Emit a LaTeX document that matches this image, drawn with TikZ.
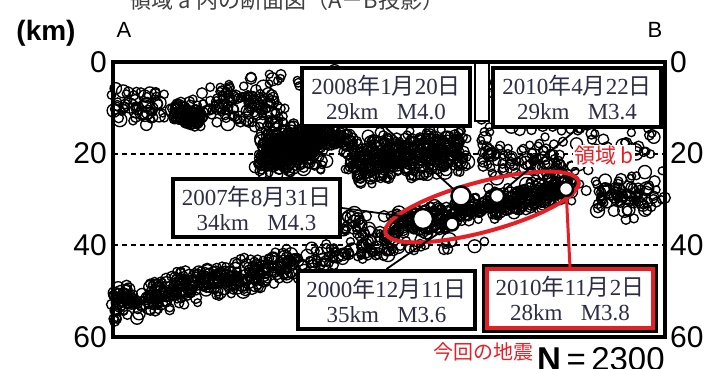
\documentclass[tikz,border=0pt]{standalone}
\usepackage{fontspec}
\setmainfont{Liberation Sans}
\newfontfamily\jpfont{Noto Sans CJK JP}
\newfontfamily\serifnum{Liberation Serif}
\newcommand\kyear{{\jpfont 年}}
\newcommand\kmonth{{\jpfont 月}}
\newcommand\kday{{\jpfont 日}}
\definecolor{boxtext}{RGB}{45,45,70}
\definecolor{quakered}{RGB}{228,32,38}

\begin{document}
\begin{tikzpicture}[x=1pt, y=-1pt,
  quake/.style={line width=1.35pt, black},
  evbox/.style={draw, line width=4pt, fill=white, align=center, inner sep=0pt,
    text=boxtext, font=\fontsize{23}{25}\selectfont\serifnum},
  event/.style={circle, draw, line width=2.5pt, fill=white, inner sep=0pt},
  link/.style={line width=1.8pt},
  depth/.style={font=\fontsize{30}{30}\selectfont, inner sep=0pt}]
  \useasboundingbox (0,0) rectangle (713,369);

  \draw[line width=1.2pt, dash pattern=on 5pt off 4pt] (113,154) -- (665,154);
  \draw[line width=1.2pt, dash pattern=on 5pt off 4pt] (113,245) -- (665,245);

  \pgfmathsetseed{2300}
  \foreach \n/\xa/\ya/\xb/\yb/\sx/\sy in {170/115/106/280/112/8/20, 70/180/116/200/120/8/9,
      40/215/95/275/98/18/12, 380/262/150/318/145/12/27, 130/300/137/345/137/8/10,
      420/350/160/465/150/12/27, 420/392/228/570/187/10/16, 380/115/305/290/264/10/20,
      70/290/262/390/250/12/12, 130/480/140/660/140/5/78, 80/600/195/658/200/12/24,
      40/250/78/470/80/10/12, 45/345/225/390/238/15/22, 70/480/152/580/168/10/18,
      25/310/250/480/245/10/8}{
    \foreach \k in {1,...,\n}{
      \pgfmathsetmacro\qt{rnd}
      \pgfmathsetmacro\qx{\xa+(\xb-\xa)*\qt+\sx*(rand+rand)/2}
      \pgfmathsetmacro\qy{\ya+(\yb-\ya)*\qt+\sy*(rand+rand)/2}
      \pgfmathsetmacro\qr{3.8+3.8*rnd*rnd}
      \draw[quake] (\qx,\qy) circle[radius=\qr];
    }
  }

  \draw[quakered, line width=4pt, rotate around={15:(482,207)}] (482,207) ellipse[x radius=100, y radius=25];

  \node[event, minimum size=20pt] (e2007) at (423,219) {};
  \node[event, minimum size=19pt] (e2008) at (461,196) {};
  \node[event, minimum size=13pt] (e2000) at (452,224) {};
  \node[event, minimum size=14pt] (e2010a) at (497,196) {};
  \node[event, minimum size=14pt] (enow) at (566,189) {};

  \draw[line width=1.5pt, fill=white] (475,62) rectangle (489,121);
  \node[evbox, minimum width=168pt, minimum height=58pt] (b2008) at (386,97)
    {2008\kyear 1\kmonth 20\kday\\29km\hspace{0.8em}M4.0};
  \node[evbox, minimum width=168pt, minimum height=59pt] (b2010a) at (577,97.5)
    {2010\kyear 4\kmonth 22\kday\\29km\hspace{0.8em}M3.4};
  \node[evbox, minimum width=167pt, minimum height=58pt] (b2007) at (256.5,208)
    {2007\kyear 8\kmonth 31\kday\\34km\hspace{0.8em}M4.3};
  \node[evbox, minimum width=177pt, minimum height=58pt] (b2000) at (386.5,300)
    {2000\kyear 12\kmonth 11\kday\\35km\hspace{0.8em}M3.6};
  \node[evbox, draw=quakered, minimum width=166pt, minimum height=59pt] (bnow) at (570,298.5)
    {2010\kyear 11\kmonth 2\kday\\28km\hspace{0.8em}M3.8};
  \draw[line width=3pt] ([shift={(-1.5,-1.5)}]bnow.north west) rectangle ([shift={(1.5,1.5)}]bnow.south east);

  \draw[link] (b2007.east) -- (e2007);
  \draw[link] (b2008.south) -- (e2008);
  \draw[link] (b2010a.south) -- (e2010a);
  \draw[link] (b2000.north) -- (e2000);
  \draw[quakered, line width=3pt] (bnow.north) -- (enow);

  \draw[line width=4.5pt] (113,62) rectangle (665,337);

  \foreach \d in {0,20,40,60}{
    \node[depth, anchor=east] (dl\d) at (107,{62+4.583*\d}) {\d};
    \node[depth, anchor=west] (dr\d) at (670,{62+4.583*\d}) {\d};
  }
  \node[font=\fontsize{28}{28}\selectfont\bfseries] (unit) at (46,33) {(km)};
  \node[font=\fontsize{22}{22}\selectfont] (ptA) at (124,30) {A};
  \node[font=\fontsize{22}{22}\selectfont] (ptB) at (655,30) {B};
  \node[anchor=base, text=black!75, font=\jpfont\fontsize{22}{22}\selectfont] (title) at (287,9)
    {領域 a 内の断面図（A－B投影）};
  \node[anchor=west, fill=white, inner sep=1pt, text=quakered, font=\jpfont\fontsize{21}{21}\selectfont] (regb) at (573,156) {領域 b};
  \node[fill=white, inner sep=1pt, text=quakered, font=\jpfont\fontsize{20}{20}\selectfont] (nowlbl) at (483,352) {今回の地震};
  \node[anchor=west, inner sep=0pt, font=\fontsize{33}{33}\selectfont] (total) at (537,359) {\textbf{N}\,=\,2300};
\end{tikzpicture}
\end{document}
